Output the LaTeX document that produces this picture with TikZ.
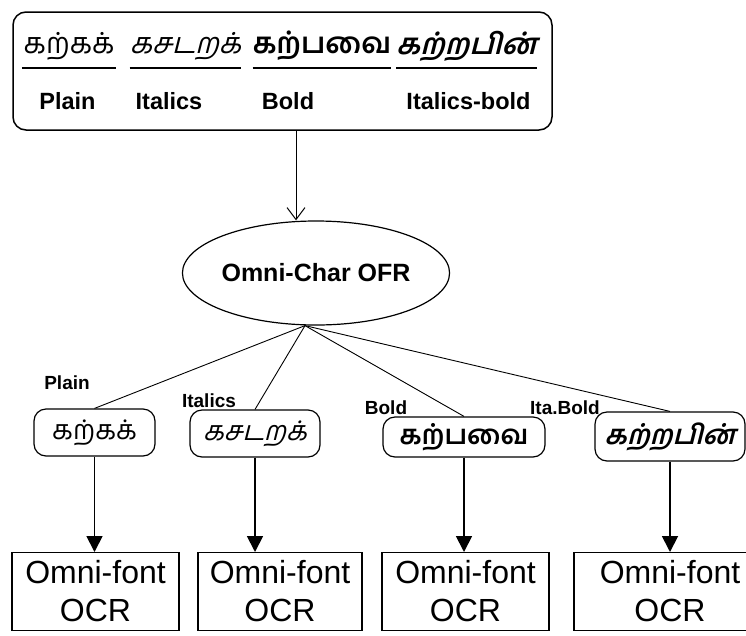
\documentclass[tikz,border=0pt]{standalone}
\usepackage{fontspec}
\usetikzlibrary{shapes.geometric,arrows.meta}
\setmainfont{Liberation Sans}
\newfontfamily\tamil[Script=Tamil]{Hind Madurai}
\newfontfamily\tamilit[Script=Tamil,FakeSlant=0.25]{Hind Madurai}
\tikzset{
  lab/.style={font=\bfseries\fontsize{23.5}{26}\selectfont, inner sep=0pt},
  slab/.style={font=\bfseries\fontsize{19}{22}\selectfont, inner sep=0pt},
  tw/.style={inner sep=0pt, font=\tamil\fontsize{29}{30}\selectfont},
  uline/.style={line width=1.3pt},
  sbox/.style={draw, line width=1.2pt, rounded corners=12pt, inner sep=0pt},
  obox/.style={draw, line width=1.3pt, anchor=north, align=center, inner xsep=0pt, inner ysep=8pt,
     font=\fontsize{32}{38}\selectfont},
  link/.style={line width=0.9pt},
  farrow/.style={line width=1.8pt, -{Triangle[width=16pt,length=16pt]}},
}
\begin{document}
\begin{tikzpicture}[x=1pt,y=-1pt]
\clip (0,0) rectangle (746,635);
\fill[white] (0,0) rectangle (746,635);
% top box
\node[draw, line width=1.5pt, rounded corners=13pt, minimum width=539pt, minimum height=118pt, inner sep=0pt] (top) at (282.5,71) {};
\node[tw, minimum width=94pt] (w1) at (69,46) {கற்கக்};
\node[tw, minimum width=111pt, font=\tamilit\fontsize{29}{30}\selectfont] (w2) at (185.5,46) {கசடறக்};
\node[tw, minimum width=126pt, font=\tamil\bfseries\fontsize{29}{30}\selectfont] (w3) at (322,46) {கற்பவை};
\node[tw, minimum width=129pt, font=\tamilit\bfseries\fontsize{29}{30}\selectfont] (w4) at (466.5,46) {கற்றபின்};
\foreach \w in {w1,w2,w3,w4}
  \draw[uline] ([yshift=-22pt]\w.west) -- ([yshift=-22pt]\w.east);
\node[lab] (l1) at (67.5,101) {Plain};
\node[lab] (l2) at (169,101) {Italics};
\node[lab] (l3) at (288,101) {Bold};
\node[lab] (l4) at (468.5,101) {Italics-bold};
% ellipse
\node[ellipse, draw, line width=1.2pt, minimum width=262pt, minimum height=104pt, inner sep=0pt,
  font=\bfseries\fontsize{25}{28}\selectfont] (ell) at (316,273) {Omni-Char OFR};
\coordinate (ax) at (296,0);
\draw[line width=1pt, -{Straight Barb[length=12pt,width=18pt]}] (top.south -| ax) -- (ell.north -| ax);
\coordinate (hub) at ([xshift=-11pt]ell.south);
% small boxes
\node[sbox, minimum width=121pt, minimum height=47pt, font=\tamil\fontsize{27}{28}\selectfont] (s1) at (94.5,432.5) {கற்கக்};
\node[sbox, minimum width=130pt, minimum height=47pt, font=\tamilit\fontsize{27}{28}\selectfont] (s2) at (255,433.5) {கசடறக்};
\node[sbox, minimum width=162pt, minimum height=40pt, font=\tamil\bfseries\fontsize{27}{28}\selectfont] (s3) at (464,437) {கற்பவை};
\node[sbox, minimum width=150pt, minimum height=49pt, font=\tamilit\bfseries\fontsize{27}{28}\selectfont] (s4) at (670,436.5) {கற்றபின்};
\foreach \s in {s1,s2,s3,s4}
  \draw[link] (hub) -- (\s.north);
\node[slab] (p1) at (67,383) {Plain};
\node[slab] (p2) at (209,401) {Italics};
\node[slab] (p3) at (386,408) {Bold};
\node[slab] (p4) at (565,408) {Ita.Bold};
% bottom boxes
\node[obox, minimum width=167pt] (o1) at (95.5,552) {Omni-font\\OCR};
\node[obox, minimum width=164pt] (o2) at (280,552) {Omni-font\\OCR};
\node[obox, minimum width=167pt] (o3) at (465.5,552) {Omni-font\\OCR};
\node[obox, minimum width=192pt] (o4) at (670,552) {Omni-font\\OCR};
\draw[farrow] (s1.south) -- (s1.south |- o1.north);
\draw[farrow] (s2.south) -- (s2.south |- o2.north);
\draw[farrow] (s3.south) -- (s3.south |- o3.north);
\draw[farrow] (s4.south) -- (s4.south |- o4.north);
\end{tikzpicture}
\end{document}
